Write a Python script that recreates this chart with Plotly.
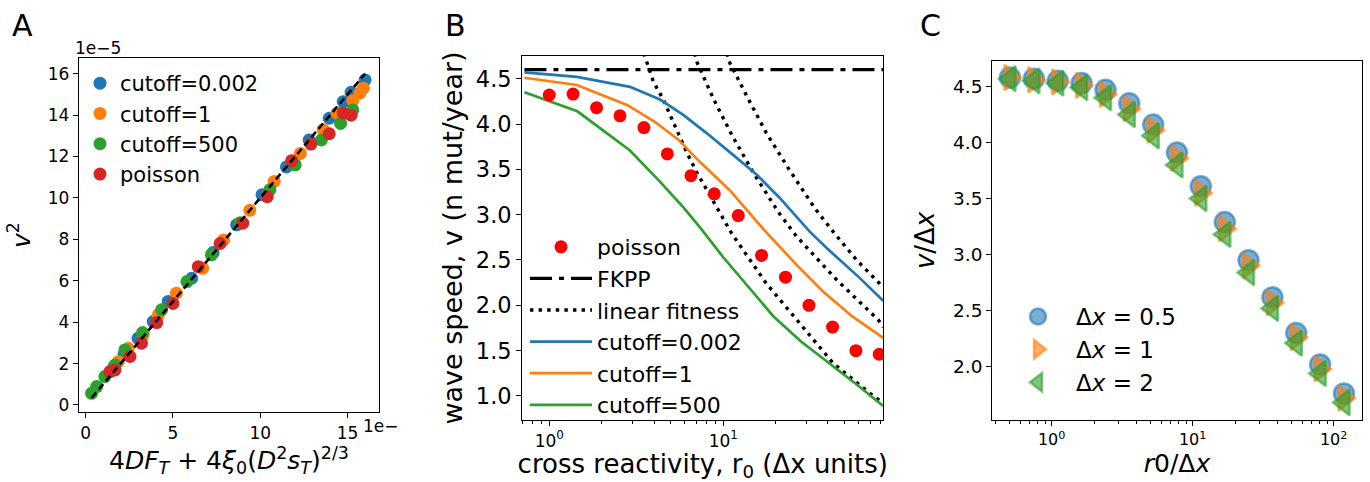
import plotly.graph_objects as go

FONT = "DejaVu Sans"
BLUE, ORANGE, GREEN, RED = "#1f77b4", "#ff7f0e", "#2ca02c", "#d62728"

# ---------------- Panel A data (units of 1e-5) ----------------
a_blue_x = [16.0, 15.2, 14.75, 13.95, 12.8, 11.5, 10.1, 8.65, 7.3, 6.07, 4.73, 3.87, 3.0, 2.2, 1.58]
a_blue_y = [15.7, 15.1, 14.65, 13.85, 12.8, 11.5, 10.15, 8.7, 7.36, 6.12, 5.0, 4.03, 3.22, 2.45, 1.77]
a_orange_x = [15.9, 15.7, 15.3, 14.4, 13.6, 12.3, 10.8, 9.4, 7.9, 6.7, 5.2, 4.16, 3.3, 2.44, 1.87]
a_orange_y = [15.3, 15.06, 14.7, 14.1, 13.3, 12.15, 10.8, 9.4, 7.97, 6.6, 5.4, 4.35, 3.38, 2.74, 2.09]
a_green_x = [15.3, 14.6, 13.5, 12.0, 10.55, 8.84, 7.2, 5.8, 4.35, 3.26, 2.25, 1.68, 1.1, 0.63, 0.34]
a_green_y = [14.25, 13.6, 12.8, 11.6, 10.4, 8.8, 7.25, 5.96, 4.6, 3.5, 2.66, 1.93, 1.37, 0.89, 0.56]
a_red_x = [15.2, 14.75, 13.95, 12.9, 11.8, 10.4, 9.0, 7.7, 6.45, 5.0, 4.07, 3.2, 2.54, 1.68, 1.39]
a_red_y = [14.0, 14.1, 13.1, 12.6, 11.8, 10.06, 8.78, 7.8, 6.68, 4.9, 3.98, 2.98, 2.34, 1.69, 1.61]
a_series = [("cutoff=0.002", a_blue_x, a_blue_y, BLUE),
            ("cutoff=1", a_orange_x, a_orange_y, ORANGE),
            ("cutoff=500", a_green_x, a_green_y, GREEN),
            ("poisson", a_red_x, a_red_y, RED)]

# ---------------- Panel B data ----------------
b_poisson_x = [1.0, 1.37, 1.87, 2.55, 3.5, 4.77, 6.52, 8.88, 12.2, 16.6, 22.8, 31.1, 42.5, 57.9, 78.8]
b_poisson_y = [4.32, 4.33, 4.18, 4.09, 3.96, 3.67, 3.43, 3.23, 2.99, 2.55, 2.31, 2.00, 1.76, 1.50, 1.46]
b_fkpp_x = [0.72, 83.0]
b_fkpp_y = [4.60, 4.60]
b_lin1_x = [3.5, 3.63, 3.96, 4.52, 5.28, 6.16, 7.03, 11.2, 17.7, 27.6, 42.9, 69.7, 83.0]
b_lin1_y = [4.78, 4.68, 4.47, 4.27, 3.97, 3.69, 3.47, 2.79, 2.24, 1.80, 1.36, 1.03, 0.92]
b_lin2_x = [6.85, 7.03, 8.77, 11.2, 14.6, 20.7, 26.4, 44.9, 77.8, 83.0]
b_lin2_y = [4.78, 4.69, 4.28, 3.88, 3.49, 3.03, 2.76, 2.28, 1.84, 1.76]
b_lin3_x = [10.5, 10.8, 13.9, 17.7, 23.7, 33.6, 42.9, 58.4, 83.0]
b_lin3_y = [4.78, 4.69, 4.28, 3.90, 3.51, 3.07, 2.81, 2.50, 2.20]
b_c0002_x = [0.72, 1.44, 2.91, 4.33, 5.89, 8.02, 10.9, 15.6, 21.0, 31.5, 41.0, 61.0, 83.0]
b_c0002_y = [4.57, 4.52, 4.41, 4.27, 4.10, 3.90, 3.69, 3.44, 3.19, 2.81, 2.60, 2.30, 2.05]
b_c1_x = [0.72, 1.44, 2.8, 4.0, 5.5, 7.35, 10.9, 17.0, 26.0, 37.6, 55.0, 83.0]
b_c1_y = [4.51, 4.43, 4.21, 4.03, 3.83, 3.58, 3.27, 2.84, 2.46, 2.15, 1.88, 1.64]
b_c500_x = [0.72, 1.45, 2.9, 4.3, 5.9, 7.35, 10.0, 14.0, 19.4, 28.0, 41.0, 60.0, 83.0]
b_c500_y = [4.35, 4.14, 3.71, 3.37, 3.08, 2.86, 2.53, 2.20, 1.88, 1.60, 1.36, 1.11, 0.89]

# ---------------- Panel C data ----------------
c_x = [0.506, 0.748, 1.104, 1.63, 2.41, 3.55, 5.25, 7.74, 11.43, 16.9, 24.9, 36.8, 54.3, 80.2, 118.4]
c_dx05 = [4.58, 4.57, 4.55, 4.53, 4.47, 4.35, 4.16, 3.91, 3.61, 3.29, 2.95, 2.62, 2.30, 2.02, 1.76]
c_dx1 = [4.58, 4.56, 4.54, 4.51, 4.43, 4.30, 4.11, 3.86, 3.55, 3.23, 2.90, 2.57, 2.26, 1.98, 1.72]
c_dx2 = [4.57, 4.55, 4.53, 4.49, 4.40, 4.25, 4.06, 3.80, 3.50, 3.18, 2.84, 2.52, 2.21, 1.94, 1.68]

W, H = 1370, 482
def px_x(a, b):
    return [a / W, b / W]
def px_y(top, bot):
    return [1 - bot / H, 1 - top / H]

fig = go.Figure()

# Panel A
for name, xs, ys, col in a_series:
    fig.add_trace(go.Scatter(x=xs, y=ys, mode="markers", name=name,
                             marker=dict(color=col, size=13, line=dict(width=0)),
                             xaxis="x", yaxis="y", legend="legend"))
all_a = a_blue_x + a_orange_x + a_green_x + a_red_x
ref = [min(all_a), max(all_a)]
fig.add_trace(go.Scatter(x=ref, y=ref, mode="lines", showlegend=False,
                         line=dict(color="black", width=2.6, dash="7px,4px"),
                         xaxis="x", yaxis="y"))

# Panel B
lw = 2.7
fig.add_trace(go.Scatter(x=b_fkpp_x, y=b_fkpp_y, mode="lines", name="FKPP", legendrank=2,
                         line=dict(color="black", width=3.3, dash="22px,7px,5px,7px"),
                         xaxis="x2", yaxis="y2", legend="legend2"))
for i, (lx, ly) in enumerate([(b_lin1_x, b_lin1_y), (b_lin2_x, b_lin2_y), (b_lin3_x, b_lin3_y)]):
    fig.add_trace(go.Scatter(x=lx, y=ly, mode="lines", name="linear fitness", legendrank=3,
                             legendgroup="lin", showlegend=(i == 0),
                             line=dict(color="black", width=3.4, dash="3.4px,5.2px"),
                             xaxis="x2", yaxis="y2", legend="legend2"))
for name, lx, ly, col, rk in [("cutoff=0.002", b_c0002_x, b_c0002_y, BLUE, 4),
                              ("cutoff=1", b_c1_x, b_c1_y, ORANGE, 5),
                              ("cutoff=500", b_c500_x, b_c500_y, GREEN, 6)]:
    fig.add_trace(go.Scatter(x=lx, y=ly, mode="lines", name=name, legendrank=rk,
                             line=dict(color=col, width=lw),
                             xaxis="x2", yaxis="y2", legend="legend2"))
fig.add_trace(go.Scatter(x=b_poisson_x, y=b_poisson_y, mode="markers", name="poisson", legendrank=1,
                         marker=dict(color="red", size=13, line=dict(width=0)),
                         xaxis="x2", yaxis="y2", legend="legend2"))

# Panel C
def rgba(h, a):
    h = h.lstrip("#")
    return "rgba(%d,%d,%d,%.2f)" % (int(h[0:2], 16), int(h[2:4], 16), int(h[4:6], 16), a)
for name, ys, col, sym, sz in [("Δ<i>x</i> = 0.5", c_dx05, BLUE, "circle", 20),
                               ("Δ<i>x</i> = 1", c_dx1, ORANGE, "triangle-right", 22),
                               ("Δ<i>x</i> = 2", c_dx2, GREEN, "triangle-left", 22)]:
    fig.add_trace(go.Scatter(x=c_x, y=ys, mode="markers", name=name,
                             marker=dict(symbol=sym, size=sz, color=rgba(col, 0.6),
                                         line=dict(color=rgba(col, 0.6), width=2.5)),
                             cliponaxis=False,
                             xaxis="x3", yaxis="y3", legend="legend3"))

axis_common = dict(showline=True, mirror=True, linecolor="black", linewidth=1.3,
                   ticks="outside", ticklen=5, tickwidth=1.3, tickcolor="black",
                   showgrid=False, zeroline=False, automargin=False)

def minor_vals(lo, hi):
    vals = []
    for dec in [0.1, 1, 10, 100]:
        for k in range(2, 10):
            v = k * dec
            if lo <= v <= hi:
                vals.append(v)
    return vals

fig.update_layout(
    width=W, height=H, margin=dict(l=0, r=0, t=0, b=0),
    paper_bgcolor="white", plot_bgcolor="white",
    font=dict(family=FONT, color="black"),
    xaxis=dict(domain=px_x(79, 379), range=[-0.38, 16.8], tickvals=[0, 5, 10, 15],
               tickfont=dict(size=17), anchor="y",
               title=dict(text="4<i>DF<sub>T</sub></i> + 4<i>ξ</i><sub>0</sub>(<i>D</i><sup>2</sup><i>s<sub>T</sub></i>)<sup>2/3</sup>",
                          font=dict(size=25), standoff=6), **axis_common),
    yaxis=dict(domain=px_y(58, 412), range=[-0.34, 16.76], dtick=2, tickfont=dict(size=17), anchor="x",
               title=dict(text="<i>v</i><sup>2</sup>", font=dict(size=25), standoff=10), **axis_common),
    xaxis2=dict(domain=px_x(522.3, 883.3), type="log", range=[-0.155, 1.92],
                tickvals=[1, 10], ticktext=["10<sup>0</sup>", "10<sup>1</sup>"],
                tickfont=dict(size=17), anchor="y2",
                minor=dict(ticks="outside", ticklen=3, tickwidth=1, tickcolor="black",
                           tickvals=minor_vals(0.7, 83), showgrid=False),
                title=dict(text="cross reactivity, r<sub>0</sub> (Δx units)", font=dict(size=26), standoff=3),
                **axis_common),
    yaxis2=dict(domain=px_y(56, 420), range=[0.735, 4.75], tickvals=[1.0, 1.5, 2.0, 2.5, 3.0, 3.5, 4.0, 4.5],
                tickformat=".1f", tickfont=dict(size=22.5), anchor="x2",
                title=dict(text="wave speed, v (n mut/year)", font=dict(size=27), standoff=5), **axis_common),
    xaxis3=dict(domain=px_x(992.3, 1361.7), type="log", range=[-0.421, 2.199],
                tickvals=[1, 10, 100], ticktext=["10<sup>0</sup>", "10<sup>1</sup>", "10<sup>2</sup>"],
                tickfont=dict(size=16), anchor="y3",
                minor=dict(ticks="outside", ticklen=3, tickwidth=1, tickcolor="black",
                           tickvals=minor_vals(0.38, 158), showgrid=False),
                title=dict(text="<i>r</i>0/Δ<i>x</i>", font=dict(size=25), standoff=5),
                **axis_common),
    yaxis3=dict(domain=px_y(60.7, 420), range=[1.524, 4.73], tickvals=[2.0, 2.5, 3.0, 3.5, 4.0, 4.5],
                tickformat=".1f", tickfont=dict(size=18.5), anchor="x3",
                title=dict(text="<i>v</i>/Δ<i>x</i>", font=dict(size=26), standoff=10), **axis_common),
    legend=dict(x=80 / W, y=1 - 63 / H, xanchor="left", yanchor="top", bgcolor="rgba(0,0,0,0)",
                font=dict(size=21), itemwidth=30, tracegroupgap=0),
    legend2=dict(x=525 / W, y=1 - 226 / H, xanchor="left", yanchor="top", bgcolor="rgba(0,0,0,0)",
                 font=dict(size=22), itemwidth=62, tracegroupgap=0),
    legend3=dict(x=1000 / W, y=1 - 295 / H, xanchor="left", yanchor="top", bgcolor="rgba(0,0,0,0)",
                 font=dict(size=23), itemwidth=66, tracegroupgap=0),
    annotations=[
        dict(text="A", x=10 / W, y=1 - 25 / H, xref="paper", yref="paper", xanchor="left", yanchor="middle",
             showarrow=False, font=dict(size=30)),
        dict(text="B", x=443 / W, y=1 - 25 / H, xref="paper", yref="paper", xanchor="left", yanchor="middle",
             showarrow=False, font=dict(size=30)),
        dict(text="C", x=918 / W, y=1 - 25 / H, xref="paper", yref="paper", xanchor="left", yanchor="middle",
             showarrow=False, font=dict(size=30)),
        dict(text="1e−5", x=73 / W, y=1 - 48 / H, xref="paper", yref="paper", xanchor="left", yanchor="middle",
             showarrow=False, font=dict(size=17)),
        dict(text="1e−", x=361 / W, y=1 - 426 / H, xref="paper", yref="paper", xanchor="left", yanchor="middle",
             showarrow=False, font=dict(size=17)),
    ],
)

fig.write_html("out.html", config={"displayModeBar": False},
               post_script="document.body.style.margin='0';document.body.style.overflow='hidden';")
